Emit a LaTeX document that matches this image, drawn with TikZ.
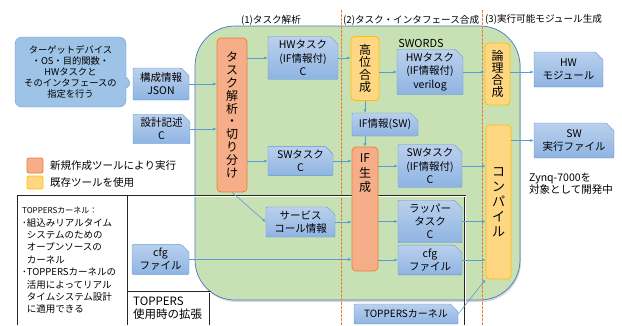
\documentclass[tikz,border=0pt]{standalone}
\usepackage{fontspec}
\setmainfont{Noto Sans CJK JP}
\usetikzlibrary{shapes.misc,shapes.callouts,arrows.meta,shadows}

\definecolor{swgreen}{RGB}{199,225,181}
\definecolor{swedge}{RGB}{72,118,196}
\definecolor{boxtop}{RGB}{186,208,237}
\definecolor{boxbot}{RGB}{143,180,226}
\definecolor{boxedge}{RGB}{95,152,212}
\definecolor{notefill}{RGB}{157,195,230}
\definecolor{newfill}{RGB}{246,174,137}
\definecolor{newedge}{RGB}{237,125,49}
\definecolor{oldfill}{RGB}{255,215,130}
\definecolor{oldedge}{RGB}{255,192,0}
\definecolor{linkblue}{RGB}{91,155,213}

\tikzset{
  sz/.style 2 args={minimum width=#1pt, minimum height=#2pt},
  blk/.style={chamfered rectangle, chamfered rectangle corners=north east,
    chamfered rectangle xsep=4pt, rounded corners=1pt, draw=boxedge,
    top color=boxtop, bottom color=boxbot, inner sep=0pt, align=center,
    font=\fontsize{10.5}{13.3}\selectfont},
  newtool/.style={rectangle, rounded corners=4pt, draw=newedge, fill=newfill,
    line width=0.7pt, inner sep=0pt, align=center, font=\fontsize{12}{12.8}\selectfont},
  oldtool/.style={rectangle, rounded corners=4pt, draw=oldedge, fill=oldfill,
    line width=0.8pt, inner sep=0pt, align=center, font=\fontsize{12}{12.3}\selectfont},
  conn/.style={draw=linkblue, line width=0.6pt, ->},
  frame/.style={draw=black!85, double=white, double distance=0.9pt, line width=0.5pt},
  phase/.style={draw=newedge, line width=0.7pt, dash pattern=on 2.5pt off 1.5pt},
  head/.style={font=\fontsize{9.6}{11}\selectfont, inner sep=0pt},
}

\begin{document}
\begin{tikzpicture}[x=1pt, y=-1pt, >={Latex[length=3.5pt,width=3pt]}]
\useasboundingbox (0,0) rectangle (622,325);

% SWORDS region
\draw[swedge, fill=swgreen, line width=0.7pt, rounded corners=40pt,
      drop shadow={shadow xshift=1pt, shadow yshift=-2pt, opacity=0.3}]
      (195,26) rectangle (520,300);
\node[font=\fontsize{11}{13}\selectfont] (swords) at (421,43) {SWORDS};

% phases
\draw[phase] (341,10) -- (341,325)
             (482,10) -- (482,325);
\node[head] (ph1) at (271,20) {(1)タスク解析};
\node[head, anchor=west] (ph2) at (343,20) {(2)タスク・インタフェース合成};
\node[head, anchor=west] (ph3) at (485,19) {(3)実行可能モジュール生成};

% TOPPERS frame
\draw[frame] (18,325) -- (18,196) -- (465,196) -- (465,325);
\draw[frame] (128,196) -- (128,325);
\draw[frame] (128,292) -- (210,292) -- (210,325);

% inputs
\node[blk, sz={56}{32}] (json) at (161,84) {構成情報\\JSON};
\node[blk, sz={57}{28}] (design) at (161.5,129) {設計記述\\C};
\node[blk, sz={57}{23}] (cfgl) at (160.5,259.5) {cfg\\ファイル};
\node[rectangle callout, callout absolute pointer={(json.west)},
      callout pointer width=11pt, rounded corners=7pt, draw=boxedge, fill=notefill,
      sz={111}{70}, inner sep=0pt, align=center,
      font=\fontsize{9.3}{10.8}\selectfont] (note) at (70.5,72)
      {ターゲットデバイス\\・OS・目的関数・\\HWタスクと\\そのインタフェースの\\指定を行う};

% (1)
\node[newtool, sz={30}{154}] (ana) at (232,115)
      {タ\\ス\\ク\\解\\析\\・\\切\\り\\分\\け};
\node[blk, sz={70}{42}] (hwc) at (303,58) {HWタスク\\(IF情報付)\\C};
\node[blk, sz={65}{26}] (swc) at (300.5,161) {SWタスク\\C};
\node[blk, sz={69}{26}] (svc) at (300.5,222) {サービス\\コール情報};

% (2)
\node[oldtool, sz={28}{64}] (hls) at (365,68.5) {高\\位\\合\\成};
\node[blk, sz={66}{23}] (ifsw) at (385,124.5) {IF情報(SW)};
\node[newtool, sz={26}{124},
      label={[align=center, anchor=north, yshift=-4pt,
              font=\fontsize{12}{14.5}\selectfont]north:{IF\\生\\成}}] (ifgen) at (365,209) {};
\node[blk, sz={66}{38}] (hwv) at (430,72) {HWタスク\\(IF情報付)\\verilog};
\node[blk, sz={64}{38}] (swif) at (430,166) {SWタスク\\(IF情報付)\\C};
\node[blk, sz={64}{39}] (wrap) at (430,221.5) {ラッパー\\タスク\\C};
\node[blk, sz={64}{24}] (cfgr) at (430,260) {cfg\\ファイル};
\node[blk, sz={104}{20}, font=\fontsize{10}{12}\selectfont] (kernel) at (406,314) {TOPPERSカーネル};

% (3)
\node[oldtool, sz={25}{62}] (lsyn) at (497.5,74) {論\\理\\合\\成};
\node[oldtool, sz={25}{154}, font=\fontsize{13}{15}\selectfont] (comp) at (498.5,202)
      {コ\\ン\\パ\\イ\\ル};
\node[blk, sz={69}{35}] (hwm) at (568.5,69.5) {HW\\モジュール};
\node[blk, sz={80}{35}] (swexe) at (574,140.5) {SW\\実行ファイル};
\node[anchor=west, align=left, inner sep=0pt, font=\fontsize{10.5}{12.5}\selectfont]
      (zynq) at (529,184) {Zynq-7000を\\対象として開発中};

% legend
\node[newtool, sz={16}{15}, rounded corners=2pt] (keynew) at (35,165.5) {};
\node[oldtool, sz={16}{13}, rounded corners=2pt] (keyold) at (35,182.5) {};
\node[anchor=west, inner sep=0pt, font=\fontsize{10.5}{12}\selectfont] (keynewtxt) at (50,165.5) {新規作成ツールにより実行};
\node[anchor=west, inner sep=0pt, font=\fontsize{10.5}{12}\selectfont] (keyoldtxt) at (50,182.5) {既存ツールを使用};

% TOPPERS notes
\node[anchor=north west, align=left, inner sep=0pt, font=\fontsize{9.5}{12.4}\selectfont]
      (kerneldesc) at (22,207)
      {{\fontsize{8}{10}\selectfont TOPPERSカーネル：}\\
       ･組込みリアルタイム\\
       \phantom{･}システムのための\\
       \phantom{･}オープンソースの\\
       \phantom{･}カーネル\\
       ･TOPPERSカーネルの\\
       \phantom{･}活用によってリアル\\
       \phantom{･}タイムシステム設計\\
       \phantom{･}に適用できる};
\node[anchor=west, align=left, inner sep=0pt, font=\fontsize{11.5}{13}\selectfont]
      (ext) at (133,308.5) {TOPPERS\\使用時の拡張};

% connectors
\draw[conn] (json.east) -- (json.east -| ana.west);
\draw[conn] (design.east) -- (design.east -| ana.west);
\draw[conn] (hwc.west -| ana.east) -- (hwc.west);
\draw[conn] (swc.west -| ana.east) -- (swc.west);
\draw[conn] (ana.south) -- (svc.west);
\draw[conn] (hwc.east) -- (hwc.east -| hls.west);
\draw[conn] (hwv.west -| hls.east) -- (hwv.west);
\draw[conn] (hls.south) -- (hls.south |- ifsw.north);
\draw[conn] (ifgen.north |- ifsw.south) -- (ifgen.north);
\draw[conn] (swc.east) -- (swc.east -| ifgen.west);
\draw[conn] (svc.east) -- (svc.east -| ifgen.west);
\draw[conn] (cfgl.east) -- (cfgl.east -| ifgen.west);
\draw[conn] (swif.west -| ifgen.east) -- (swif.west);
\draw[conn] (wrap.west -| ifgen.east) -- (wrap.west);
\draw[conn] (cfgr.west -| ifgen.east) -- (cfgr.west);
\draw[conn] (hwv.east) -- (hwv.east -| lsyn.west);
\draw[conn] (hwv.east -| lsyn.east) -- (hwv.east -| hwm.west);
\draw[conn] (swif.east) -- (swif.east -| comp.west);
\draw[conn] (wrap.east) -- (wrap.east -| comp.west);
\draw[conn] (cfgr.east) -- (cfgr.east -| comp.west);
\draw[conn] (kernel.east) -- (comp.south west);
\draw[conn] (swexe.west -| comp.east) -- (swexe.west);
\end{tikzpicture}
\end{document}
